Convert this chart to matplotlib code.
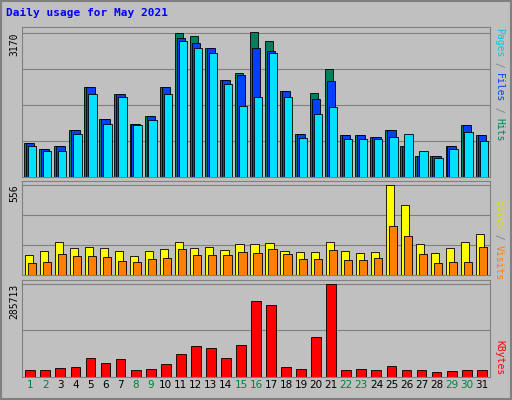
import matplotlib
matplotlib.use("Agg")
import matplotlib.pyplot as plt
import numpy as np

days = list(range(1, 32))
hits_y = [142,148,145,128,85,117,92,122,114,85,30,33,45,78,71,29,38,89,132,91,67,133,133,135,128,145,155,155,145,123,133]
files_y = [142,148,145,128,85,117,92,122,114,85,35,40,45,78,73,45,48,89,132,97,79,133,133,135,128,145,155,155,145,123,133]
pages_y = [145,150,150,132,92,122,95,123,118,92,38,45,50,82,104,95,50,95,136,112,105,138,138,138,135,132,150,157,148,130,140]
sites_y = [255,251,241,247,246,247,251,256,251,249,241,247,246,250,243,243,242,251,252,252,241,251,253,252,183,204,243,253,247,241,233]
visits_y = [263,262,254,256,256,257,261,262,259,258,249,255,255,255,252,253,249,254,259,259,250,260,260,258,225,235,254,263,262,262,246]
kb_y = [370,370,368,367,358,363,359,370,369,364,354,346,348,358,345,301,305,367,369,337,284,370,369,370,366,370,370,372,371,370,370]

hits = [(176 - y) * 21.7 for y in hits_y]
files = [(176 - y) * 21.7 for y in files_y]
pages = [(176 - y) * 21.7 for y in pages_y]
sites = [(275 - y) * 6.04 for y in sites_y]
visits = [(275 - y) * 6.04 for y in visits_y]
kbytes = [(377 - y) * 3072 for y in kb_y]
max_hits, max_sites, max_kb = 3170, 556, 285713
weekend = {1, 2, 8, 9, 15, 16, 22, 23, 29, 30}

bg = '#C0C0C0'
fig = plt.figure(figsize=(5.12, 4.0), dpi=100, facecolor=bg)
L, W = 22/512, 468/512
ax1 = fig.add_axes([L, 1-177/400, W, 150/400])
ax2 = fig.add_axes([L, 1-275/400, W, 94/400])
ax3 = fig.add_axes([L, 1-377/400, W, 97/400])
x = np.array(days)

def style(ax, ymax, label, grids):
    ax.set_facecolor(bg)
    ax.set_xlim(0.45, 31.55)
    ax.set_ylim(0, ymax * 1.04)
    ax.set_yticks([ymax])
    ax.set_yticklabels([label], rotation=90, va='top', fontsize=7, family='DejaVu Sans Mono')
    for g in grids:
        ax.axhline(ymax * g, color='#808080', lw=0.8, zorder=0)
    ax.tick_params(length=0, pad=2)
    for s in ax.spines.values():
        s.set_color('#808080')

ew = 0.6
ax1.bar(x - 0.13, hits, 0.55, color='#00805C', edgecolor='black', lw=ew, zorder=2)
ax1.bar(x + 0.0, files, 0.55, color='#0040FF', edgecolor='black', lw=ew, zorder=3)
ax1.bar(x + 0.13, pages, 0.55, color='#00E0FF', edgecolor='black', lw=ew, zorder=4)
style(ax1, max_hits, str(max_hits), [0.25, 0.5, 0.75, 1.0])
ax1.set_xticks([])

ax2.bar(x - 0.1, sites, 0.55, color='#FFFF00', edgecolor='black', lw=ew, zorder=2)
ax2.bar(x + 0.1, visits, 0.55, color='#FF8000', edgecolor='black', lw=ew, zorder=3)
style(ax2, max_sites, str(max_sites), [1/3, 2/3, 1.0])
ax2.set_xticks([])

ax3.bar(x, kbytes, 0.65, color='#FF0000', edgecolor='black', lw=ew, zorder=2)
style(ax3, max_kb, str(max_kb), [0.5, 1.0])
ax3.set_xticks(x)
ax3.set_xticklabels([str(d) for d in days], fontsize=7.5, family='DejaVu Sans')
for t, d in zip(ax3.get_xticklabels(), days):
    t.set_color('#008040' if d in weekend else 'black')

fig.text(6/512, 1-13/400, 'Daily usage for May 2021', color='#0000FF', fontsize=8,
         fontweight='bold', family='DejaVu Sans Mono', va='center')

def side(parts, ytop):
    y = ytop
    for txt, col in parts:
        fig.text(499/512, 1 - y/400, txt, color=col, rotation=-90, fontsize=7,
                 family='DejaVu Sans Mono', ha='center', va='top')
        y += len(txt) * 5.6
side([('Pages', '#00C8E0'), (' / ', '#808080'), ('Files', '#0040FF'), (' / ', '#808080'), ('Hits', '#00805C')], 28)
side([('Sites', '#E0E000'), (' / ', '#808080'), ('Visits', '#FF8000')], 200)
side([('KBytes', '#FF0000')], 340)

fig.patches.append(plt.Rectangle((0.002, 0.002), 0.996, 0.996, transform=fig.transFigure,
                                 fill=False, edgecolor='#808080', lw=1.5))
fig.savefig('out.png', dpi=100, facecolor=bg)
